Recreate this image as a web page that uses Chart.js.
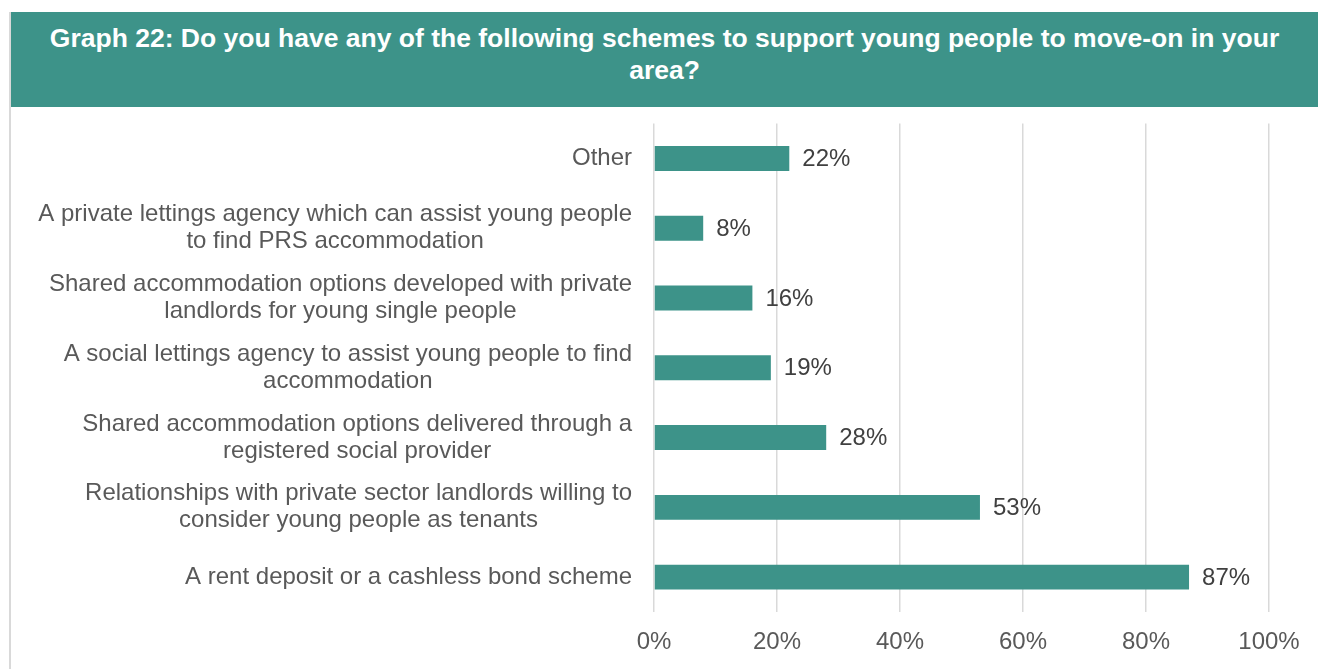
<!DOCTYPE html>
<html>
<head>
<meta charset="utf-8">
<script src="https://cdn.jsdelivr.net/npm/chart.js@4"></script>
<style>
  body { margin: 0; background: #fff; width: 1318px; height: 669px; overflow: hidden; position: relative; font-family: "Liberation Sans", Arial, sans-serif; }
  #edge { position: absolute; left: 9px; top: 12px; width: 2px; height: 657px; background: #d9d9d9; }
  #header { position: absolute; left: 11px; top: 12px; width: 1307px; height: 95px; background: #3d9389; color: #fff; font-weight: bold; font-size: 26.5px; line-height: 32px; text-align: center; box-sizing: border-box; padding: 10px 20px 0 20px; }
  #wrap { position: absolute; left: 11px; top: 89px; width: 1307px; height: 580px; }
</style>
</head>
<body>
<div id="edge"></div>
<div id="header">Graph 22: Do you have any of the following schemes to support young people to move-on in your area?</div>
<div id="wrap"><canvas id="schemesChart"></canvas></div>
<script>
const categories = [
    ['Other'],
    ['A private lettings agency which can assist young people', 'to find PRS accommodation'],
    ['Shared accommodation options developed with private', 'landlords for young single people'],
    ['A social lettings agency to assist young people to find', 'accommodation'],
    ['Shared accommodation options delivered through a', 'registered social provider'],
    ['Relationships with private sector landlords willing to', 'consider young people as tenants'],
    ['A rent deposit or a cashless bond scheme']
];
const values = [22, 8, 16, 19, 28, 53, 87];
const tickValues = [0, 20, 40, 60, 80, 100];

const barColor = '#3d9389';
const textColor = '#595959';
const fontFamily = '"Liberation Sans", Arial, sans-serif';

// draws "22%" etc. to the right of each bar
const valueLabels = {
    id: 'valueLabels',
    afterDatasetsDraw(chart) {
        const ctx = chart.ctx;
        const meta = chart.getDatasetMeta(0);
        ctx.save();
        ctx.font = '24px ' + fontFamily;
        ctx.fillStyle = '#404040';
        ctx.textAlign = 'left';
        ctx.textBaseline = 'middle';
        meta.data.forEach((bar, i) => {
            ctx.fillText(values[i] + '%', bar.x + 13, bar.y + 1);
        });
        ctx.restore();
    }
};

// category labels: block right aligned to the axis, each line centred inside it
const categoryLabels = {
    id: 'categoryLabels',
    afterDraw(chart) {
        const ctx = chart.ctx;
        const yScale = chart.scales.y;
        const right = chart.chartArea.left - 22;
        const lineH = 27;
        ctx.save();
        ctx.font = '24px ' + fontFamily;
        ctx.fillStyle = textColor;
        ctx.textAlign = 'center';
        ctx.textBaseline = 'middle';
        categories.forEach((lines, i) => {
            const y = yScale.getPixelForTick(i);
            const widest = Math.max(...lines.map(l => ctx.measureText(l).width));
            const cx = right - widest / 2;
            lines.forEach((line, j) => {
                ctx.fillText(line, cx, y + (j - (lines.length - 1) / 2) * lineH);
            });
        });
        ctx.restore();
    }
};

const ctx = document.getElementById('schemesChart').getContext('2d');
new Chart(ctx, {
    type: 'bar',
    data: {
        labels: categories,
        datasets: [{
            data: values,
            backgroundColor: barColor,
            barPercentage: 0.357,
            categoryPercentage: 1.0
        }]
    },
    options: {
        indexAxis: 'y',
        responsive: true,
        maintainAspectRatio: false,
        animation: false,
        layout: { padding: { top: 0, right: 49, left: 0, bottom: 0 } },
        plugins: {
            legend: { display: false },
            tooltip: { enabled: false }
        },
        scales: {
            x: {
                min: 0,
                max: 100,
                afterBuildTicks(scale) {
                    scale.ticks = tickValues.map(v => ({ value: v }));
                },
                afterFit(scale) { scale.height = 57; },
                grid: { color: '#d9d9d9', lineWidth: 1.5, drawTicks: false },
                border: { display: false },
                ticks: {
                    padding: 16,
                    color: textColor,
                    font: { family: fontFamily, size: 24 },
                    callback: v => v + '%'
                }
            },
            y: {
                afterFit(scale) { scale.width = 643; },
                grid: { display: false, drawTicks: false },
                border: { display: false },
                ticks: {
                    padding: 22,
                    color: 'rgba(0,0,0,0)',
                    font: { family: fontFamily, size: 24, lineHeight: 1.05 }
                }
            }
        }
    },
    plugins: [valueLabels, categoryLabels]
});
</script>
</body>
</html>
